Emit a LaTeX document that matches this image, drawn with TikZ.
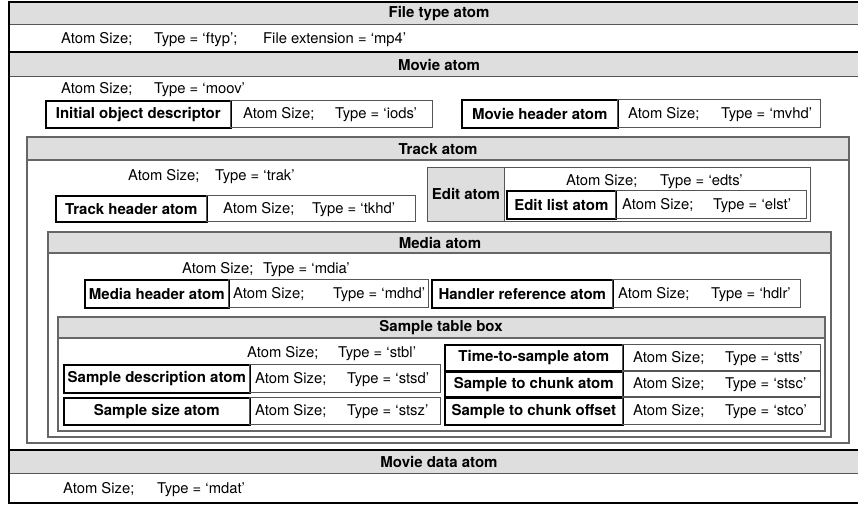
\documentclass[tikz,border=0pt]{standalone}
\usepackage{fontspec}
\setmainfont{TeX Gyre Heros}
\definecolor{hdr}{HTML}{DEDEDE}
\definecolor{ln}{HTML}{555555}
\definecolor{cont}{HTML}{666666}
\newcommand\boxcell[7]{%
  \pgfmathsetmacro\bw{#5-#3}\pgfmathsetmacro\bh{#6-#4}%
  \node[#1, minimum width=\bw pt, minimum height=\bh pt, anchor=north west] (#2) at (#3,#4) {#7};}
\newcommand\vals[5]{%
  \node[reg, anchor=base west] (#1a) at (#2,#4+5.2) {Atom Size;};
  \node[reg, anchor=base west] (#1b) at (#3,#4+5.2) {Type = ‘#5’};}
\begin{document}
\begin{tikzpicture}[x=1pt,y=-1pt,
  reg/.style={font=\fontsize{14.8}{17}\selectfont, inner sep=0pt},
  bld/.style={font=\fontsize{15}{17}\selectfont\bfseries, inner sep=0pt},
  labcell/.style={draw=black, line width=1.6pt, bld},
  valcell/.style={draw=ln, line width=0.9pt, inner sep=0pt},
  graycell/.style={draw=ln, line width=0.9pt, fill=hdr, bld},
  contbox/.style={draw=cont, line width=1.1pt},
  bandline/.style={draw=ln, line width=1pt},
  heavy/.style={line width=2.6pt}
]
\useasboundingbox (0,0) rectangle (858,505);
% top-level bands
\fill[hdr] (9,2) rectangle (872,25);
\fill[hdr] (9,52) rectangle (872,77);
\fill[hdr] (9,450) rectangle (872,473);
\draw[bandline] (9,25) -- (872,25);
\draw[bandline] (9,77) -- (872,77);
\draw[bandline] (9,473) -- (872,473);
\draw[heavy] (9,52) -- (872,52);
\draw[heavy] (9,450) -- (872,450);
\draw[heavy] (9,2) rectangle (872,503);
\node[bld] (fthdr) at (439,14) {File type atom};
\node[bld] (mvhdr) at (439,65) {Movie atom};
\node[bld] (mdhdr) at (439,462) {Movie data atom};
% file type content
\node[reg, anchor=base west] (fta) at (61,43.2) {Atom Size;};
\node[reg, anchor=base west] (ftb) at (154,43.2) {Type = ‘ftyp’;};
\node[reg, anchor=base west] (ftc) at (263,43.2) {File extension = ‘mp4’};
% movie
\vals{moov}{61}{154}{88}{moov}
\boxcell{labcell}{iodsL}{45}{100}{230}{127}{Initial object descriptor}
\boxcell{valcell}{iodsV}{230}{100}{432}{127}{}
\vals{iods}{243}{335}{113.5}{iods}
\boxcell{labcell}{mvhdL}{461}{99}{617}{127}{Movie header atom}
\boxcell{valcell}{mvhdV}{617}{99}{820}{127}{}
\vals{mvhd}{628}{721}{113}{mvhd}
% track
\fill[hdr] (27,137) rectangle (849,160);
\draw[contbox] (27,160) -- (849,160);
\draw[contbox] (27,137) rectangle (849,443);
\node[bld] (trhdr) at (438,149) {Track atom};
\vals{trak}{128}{215}{175}{trak}
\boxcell{labcell}{tkhdL}{55}{195}{206}{221}{Track header atom}
\boxcell{valcell}{tkhdV}{206}{195}{415}{221}{}
\vals{tkhd}{223}{312}{208}{tkhd}
\boxcell{graycell}{editL}{427}{167}{504}{221}{Edit atom}
\boxcell{valcell}{editV}{504}{167}{810}{221}{}
\vals{edts}{566}{660}{180}{edts}
\boxcell{labcell}{elstL}{506}{190}{615}{218}{Edit list atom}
\boxcell{valcell}{elstV}{615}{190}{806}{218}{}
\vals{elst}{622}{713}{204}{elst}
% media
\fill[hdr] (48,232) rectangle (831,253);
\draw[contbox] (48,253) -- (831,253);
\draw[contbox] (48,232) rectangle (831,437);
\node[bld] (mehdr) at (440,243) {Media atom};
\vals{mdia}{182}{263}{268}{mdia}
\boxcell{labcell}{mdhdL}{84}{279}{228}{307}{Media header atom}
\boxcell{valcell}{mdhdV}{228}{279}{428}{307}{}
\vals{mdhd}{233}{333}{293}{mdhd}
\boxcell{labcell}{hdlrL}{431}{279}{612}{307}{Handler reference atom}
\boxcell{valcell}{hdlrV}{612}{279}{800}{307}{}
\vals{hdlr}{618}{711}{293}{hdlr}
% sample table
\fill[hdr] (58,317) rectangle (825,338);
\draw[contbox] (58,338) -- (825,338);
\draw[contbox] (58,317) rectangle (825,431);
\node[bld] (sthdr) at (441,328) {Sample table box};
\vals{stbl}{247}{338}{352}{stbl}
\boxcell{labcell}{stsdL}{63}{364}{249}{392}{Sample description atom}
\boxcell{valcell}{stsdV}{249}{364}{440}{392}{}
\vals{stsd}{255}{347}{378}{stsd}
\boxcell{labcell}{stszL}{63}{397}{249}{424}{Sample size atom}
\boxcell{valcell}{stszV}{249}{397}{440}{424}{}
\vals{stsz}{255}{347}{410.5}{stsz}
\boxcell{labcell}{sttsL}{444}{344}{622}{370}{Time-to-sample atom}
\boxcell{valcell}{sttsV}{622}{344}{820}{370}{}
\vals{stts}{633}{725}{357}{stts}
\boxcell{labcell}{stscL}{444}{371}{622}{396}{Sample to chunk atom}
\boxcell{valcell}{stscV}{622}{371}{820}{396}{}
\vals{stsc}{633}{725}{383.5}{stsc}
\boxcell{labcell}{stcoL}{444}{397}{622}{424}{Sample to chunk offset}
\boxcell{valcell}{stcoV}{622}{397}{820}{424}{}
\vals{stco}{633}{725}{410.5}{stco}
% movie data content
\vals{mdat}{63}{157}{488}{mdat}
\end{tikzpicture}
\end{document}
